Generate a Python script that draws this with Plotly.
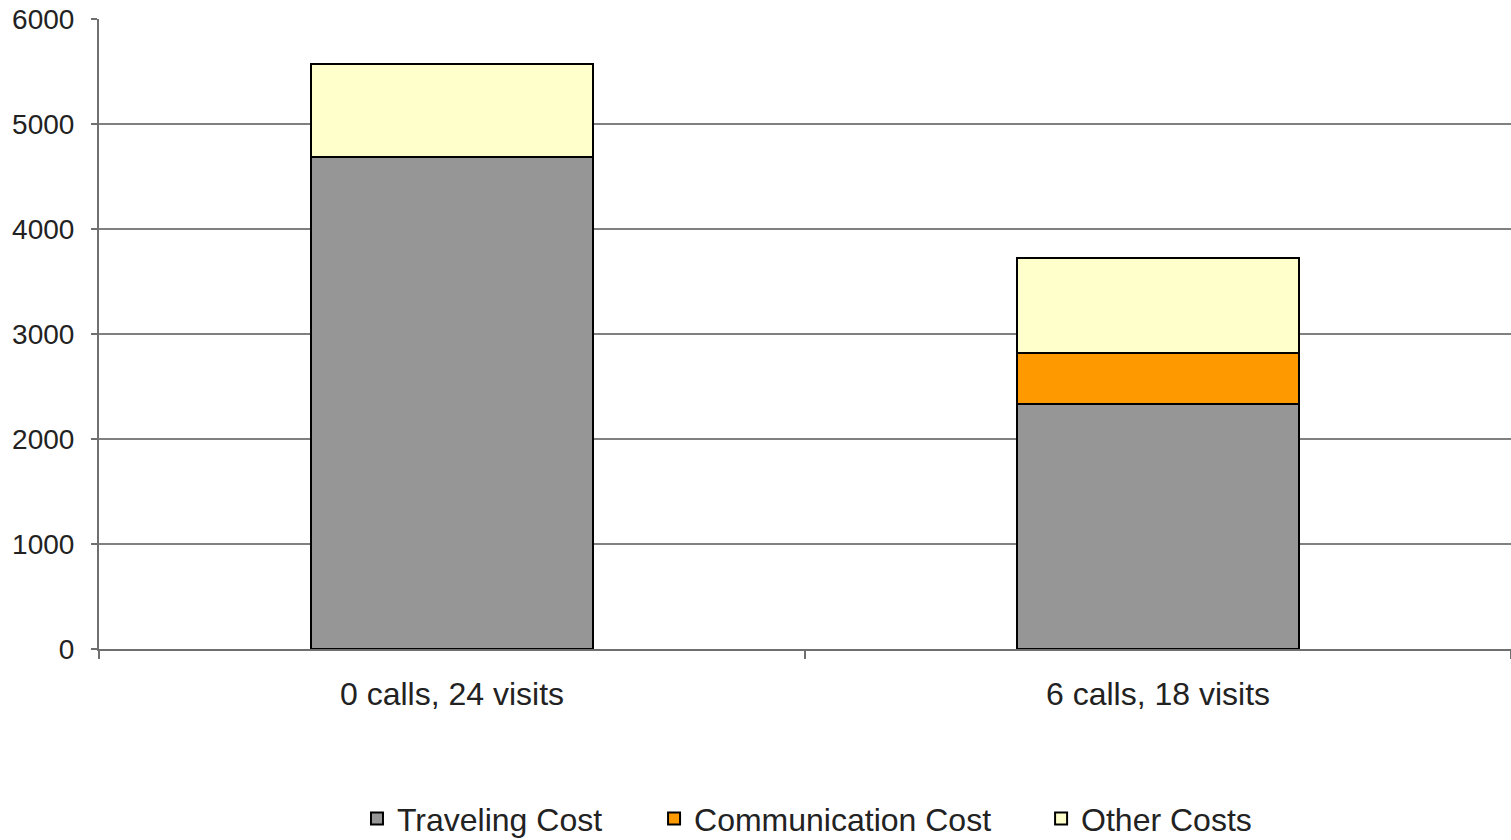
import plotly.graph_objs as go

categories = ["0 calls, 24 visits", "6 calls, 18 visits"]
traveling_cost = [4690, 2335]
communication_cost = [0, 485]
other_costs = [885, 905]
y_ticks = [0, 1000, 2000, 3000, 4000, 5000, 6000]

font_family = "Liberation Sans, Arial, sans-serif"

# name, values, colour, legend id, legend x (paper)
series = [
    ("Traveling Cost", traveling_cost, "#969696", "legend", 0.1827),
    ("Communication Cost", communication_cost, "#ff9900", "legend2", 0.3931),
    ("Other Costs", other_costs, "#ffffcc", "legend3", 0.6672),
]

fig = go.Figure()
legend_layout = {}
for name, vals, color, leg, lx in series:
    fig.add_trace(go.Bar(
        x=categories, y=vals, name=name, legend=leg,
        marker=dict(color=color, line=dict(color="#000000", width=2)),
        width=0.4,
    ))
    legend_layout[leg] = dict(
        orientation="h", x=lx, xanchor="left",
        yref="container", y=0.058, yanchor="top",
        font=dict(size=32, color="#222222"), bgcolor="rgba(0,0,0,0)",
    )

fig.update_layout(
    barmode="stack",
    width=1511, height=840,
    margin=dict(l=99, r=0, t=19, b=191),
    plot_bgcolor="white",
    paper_bgcolor="white",
    font=dict(family=font_family, size=28, color="#222222"),
    showlegend=True,
    **legend_layout,
)
fig.update_yaxes(
    range=[0, 6000], tickvals=y_ticks, automargin=False,
    showgrid=True, gridcolor="#808080", gridwidth=1.5,
    showline=True, linecolor="#6f6f6f", linewidth=2,
    ticks="outside", ticklen=6, tickcolor="#6f6f6f", tickwidth=2,
    ticklabelstandoff=11,
    zeroline=False,
)
fig.update_xaxes(
    automargin=False,
    tickfont=dict(size=32),
    showline=True, linecolor="#6f6f6f", linewidth=2,
    ticks="outside", tickson="boundaries", ticklen=8, tickcolor="#6f6f6f", tickwidth=2,
    ticklabelstandoff=16,
    showgrid=False,
)

fig.write_html("out.html", config={"displayModeBar": False},
               post_script="document.body.style.margin='0';")
